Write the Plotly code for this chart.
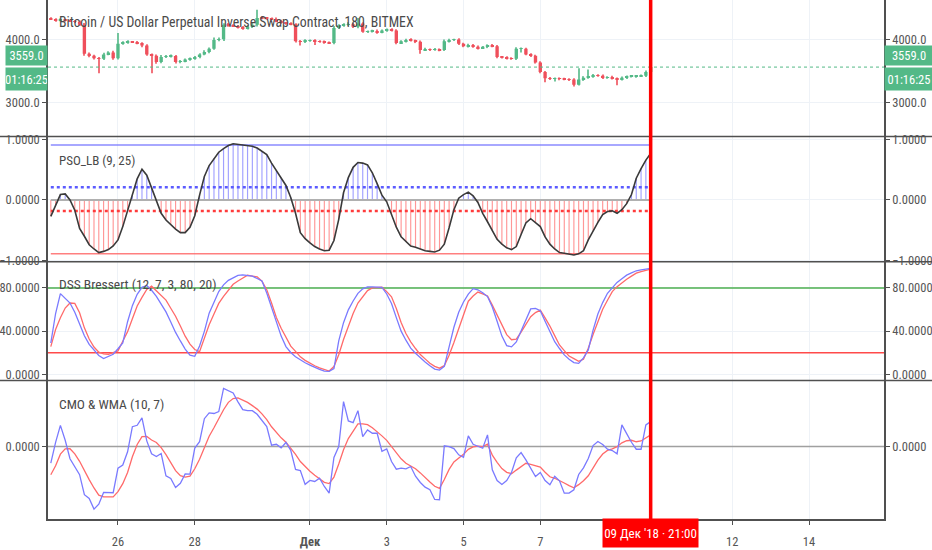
import pandas as pd
import plotly.graph_objects as go

# ---------------- data ----------------
start_time = "2018-11-24 06:00"
bar_count = 126
times = pd.date_range(start_time, periods=bar_count, freq="3h")

first_open = 4330
closes = [
    4320, 4300, 4310, 4300, 4290, 4280, 4230, 3770, 3740, 3700,
    3690, 3760, 3790, 3700, 3930, 3950, 3960, 3955, 3940, 3900,
    3760, 3740, 3640, 3720, 3730, 3735, 3640, 3650, 3680, 3690,
    3720, 3760, 3800, 3850, 3990, 4000, 4230, 4220, 4210, 4190,
    4170, 4200, 4230, 4340, 4335, 4330, 4320, 4290, 4260, 4250,
    4240, 3970, 3960, 3975, 3980, 3970, 3960, 3950, 3940, 4180,
    4220, 4230, 4240, 4200, 4250, 4120, 4125, 4130, 4110, 4140,
    4150, 4140, 3940, 3970, 3990, 3980, 3960, 3830, 3840, 3835,
    3840, 3830, 3970, 3990, 3995, 3930, 3890, 3910, 3880, 3860,
    3880, 3900, 3890, 3720, 3710, 3700, 3690, 3850, 3850, 3760,
    3740, 3630, 3480, 3380, 3370, 3380, 3370, 3365, 3360, 3280,
    3360, 3390, 3410, 3430, 3420, 3390, 3400, 3380, 3360, 3390,
    3410, 3410, 3415, 3420, 3480, 3559,
]
wick_up = [
    20, 15, 20, 15, 10, 15, 20, 30, 20, 15,
    20, 25, 20, 30, 170, 20, 25, 15, 20, 15,
    20, 15, 20, 30, 20, 25, 15, 20, 15, 20,
    15, 20, 25, 20, 40, 30, 25, 30, 20, 15,
    20, 25, 30, 130, 25, 20, 15, 25, 20, 15,
    20, 15, 20, 25, 15, 20, 15, 20, 15, 30,
    20, 25, 30, 20, 90, 20, 15, 20, 25, 15,
    20, 25, 20, 15, 20, 25, 15, 20, 25, 15,
    20, 15, 25, 20, 15, 20, 15, 20, 15, 20,
    15, 20, 25, 20, 15, 20, 15, 25, 20, 15,
    20, 15, 20, 15, 20, 15, 15, 20, 15, 20,
    180, 25, 110, 20, 15, 20, 15, 20, 15, 20,
    15, 20, 15, 20, 25, 15,
]
wick_dn = [
    15, 20, 15, 20, 15, 20, 15, 30, 25, 20,
    230, 20, 15, 25, 20, 15, 20, 15, 20, 25,
    20, 280, 30, 20, 15, 20, 25, 20, 15, 20,
    15, 20, 15, 20, 15, 20, 25, 20, 15, 20,
    20, 15, 20, 25, 15, 20, 15, 20, 15, 20,
    15, 20, 60, 20, 15, 60, 15, 20, 15, 20,
    15, 20, 15, 20, 25, 15, 20, 15, 20, 15,
    20, 15, 20, 15, 20, 15, 20, 60, 15, 20,
    15, 20, 15, 20, 15, 20, 15, 20, 15, 20,
    15, 20, 15, 20, 15, 20, 15, 20, 60, 15,
    20, 15, 20, 60, 15, 40, 20, 15, 20, 30,
    15, 20, 15, 20, 15, 20, 15, 20, 90, 15,
    20, 15, 20, 15, 20, 15,
]
opens = [first_open] + closes[:-1]
highs = [max(o, c) + w for o, c, w in zip(opens, closes, wick_up)]
lows = [min(o, c) - w for o, c, w in zip(opens, closes, wick_dn)]

pso = [
    -0.27, -0.08, 0.09, 0.10, 0.00, -0.17, -0.47, -0.60, -0.74, -0.81,
    -0.87, -0.85, -0.82, -0.76, -0.66, -0.44, -0.17, 0.09, 0.35, 0.51,
    0.41, 0.20, -0.02, -0.22, -0.33, -0.41, -0.48, -0.54, -0.54, -0.45,
    -0.26, 0.08, 0.39, 0.57, 0.69, 0.79, 0.85, 0.90, 0.93, 0.92,
    0.92, 0.91, 0.89, 0.86, 0.81, 0.75, 0.61, 0.48, 0.37, 0.24,
    0.04, -0.22, -0.54, -0.64, -0.71, -0.77, -0.81, -0.84, -0.83, -0.67,
    -0.32, 0.12, 0.37, 0.54, 0.62, 0.61, 0.58, 0.45, 0.27, 0.08,
    -0.03, -0.25, -0.45, -0.61, -0.69, -0.76, -0.78, -0.81, -0.84, -0.85,
    -0.86, -0.83, -0.73, -0.46, -0.16, 0.03, 0.09, 0.13, 0.07, -0.04,
    -0.22, -0.36, -0.51, -0.65, -0.73, -0.79, -0.82, -0.77, -0.57, -0.38,
    -0.31, -0.37, -0.44, -0.61, -0.73, -0.81, -0.87, -0.88, -0.89, -0.91,
    -0.89, -0.84, -0.66, -0.51, -0.37, -0.24, -0.19, -0.18, -0.22, -0.16,
    -0.06, 0.09, 0.36, 0.52, 0.66, 0.77,
]
pso_upper = 0.91
pso_upper_dot = 0.21
pso_mid = 0.0
pso_lower_dot = -0.18
pso_lower = -0.89

dss_k = [
    29, 56.3, 74.7, 70.4, 66, 57.5, 46.5, 35.7, 27.7, 22.6,
    17.4, 14.6, 16.4, 18.6, 23.7, 29.1, 48.7, 63.6, 74.1, 80.6,
    82.3, 77.8, 72.2, 65.3, 57.8, 48.5, 38.8, 30.9, 23.4, 17.8,
    16.7, 26.2, 39.8, 56.6, 67, 76.6, 82.8, 87, 89.3, 91.6,
    92, 91.5, 90.9, 88.7, 86.5, 75.3, 61.7, 46.8, 35.4, 25.7,
    20.2, 16.2, 13.2, 10.7, 8.6, 6.4, 4.6, 3, 2.7, 5.3,
    31, 47.8, 59.7, 67.9, 75, 79.2, 80.9, 80.9, 80.9, 80.6,
    74.4, 65.5, 52.5, 40, 31.6, 24.2, 19.5, 15.2, 11.5, 7.9,
    4.8, 3.9, 7.4, 25.4, 43.6, 57.4, 67, 74.3, 79.3, 78.3,
    75.6, 72, 62.3, 49.1, 35.4, 26.6, 25.4, 30, 40.5, 51.5,
    60.6, 61, 58.9, 49.2, 39.7, 30.2, 23.9, 18, 14, 10.9,
    10.2, 15.2, 22.6, 40.9, 55.9, 66.4, 75, 80.2, 85.1, 88.5,
    91.8, 93.9, 95.9, 96.8, 97.5, 98,
]
dss_d = [
    25.7, 41.5, 52.4, 61.4, 66, 65.7, 57, 43, 32.7, 25.3,
    20.5, 18.9, 18.4, 19.8, 21.7, 30.7, 39.5, 51.5, 63.3, 71.2,
    78.6, 81.6, 77.6, 73.6, 68.7, 61.2, 53.8, 44.8, 35.3, 28,
    23, 21, 33.8, 45.9, 55.8, 65.7, 72.2, 78, 83.4, 86.4,
    89.4, 91.7, 91, 90.3, 86.2, 78.4, 66, 52.7, 42.7, 34,
    26.1, 21.2, 16.2, 12.9, 10.2, 7.9, 6, 4.2, 3, 7.2,
    18.1, 32.2, 45.3, 56.4, 66, 71.8, 77.5, 80.1, 80.4, 80.6,
    76.6, 71.8, 61, 48, 37.8, 30.1, 23.9, 18.3, 14.3, 10.2,
    7.4, 5.7, 8, 17.7, 29.5, 42.8, 56.4, 67.7, 72.5, 76.2,
    74.4, 72.6, 64.1, 54.5, 45.6, 36.8, 32, 32.6, 39, 46,
    53.3, 57.2, 59.5, 52.2, 44.7, 35.8, 27.2, 22, 16.9, 14.5,
    12.1, 14, 24.2, 36.9, 48.4, 60.2, 68.6, 76.6, 81.2, 84.9,
    88, 90.9, 93.7, 95.2, 96.5, 97.4,
]
dss_overbought = 80
dss_oversold = 20

cmo = [
    -16.7, 4.2, 21.2, 6.3, -12.2, -20.2, -28.2, -48.3, -52, -62.7,
    -57.7, -46, -46, -46.3, -21.7, -18.5, -5.3, 19.9, 21.3, 28.7,
    5.7, -7.3, -10, -7, -29.3, -32, -41, -36.8, -27.5, -27.7,
    -1.5, 4.9, 27.9, 33.7, 33.1, 35, 58.3, 56.3, 53.7, 44.8,
    37, 36, 36, 32.3, 26.3, 20, 1.3, 2.3, -1.3, 4.1,
    -3.8, -23, -24, -37.9, -34, -35, -31.7, -40, -46.7, -11,
    0, 45, 25.7, 24, 36, 10, 16.7, 13.3, 13.3, -4.7,
    -2.3, -15, -22.7, -21.7, -22.3, -20, -29.7, -36, -40.7, -43.3,
    -53, -53.3, 0.7, 0, -2, -8.3, -10.7, 10.7, 2.3, 0,
    -1.7, 11.7, -23.3, -34, -38, -34, -26, -11.3, -6, -13.3,
    -22, -30, -26, -34, -38.3, -29.7, -34.3, -46.7, -46.7, -43.3,
    -28, -21.3, -12, 1, 5, 2, -2.7, -4, -7.3, 21.7,
    13, 4.3, -2.7, -2.7, 21.7, 25,
]
wma = [
    -28.3, -19.3, -7.6, -2.3, -2.2, -7.3, -14.8, -24.3, -33.1, -41.5,
    -48.7, -50.4, -50.7, -50.4, -45.2, -37.2, -26, -10.3, 2.1, 9.9,
    10.1, 6.6, 4.1, -1.1, -8.1, -15.7, -24.1, -29.2, -30.6, -29.6,
    -22.3, -12.7, -1.3, 10.4, 18.8, 28.2, 36.9, 44.3, 48.1, 48.7,
    46.7, 44.2, 41, 37.5, 32.7, 26.9, 19.8, 14, 8.7, 4.4,
    -1.2, -7.9, -15, -20.3, -24.7, -28.7, -32.6, -35.9, -37.1, -30.6,
    -17.5, -3.3, 8, 15.3, 22.7, 22.7, 21.9, 18.8, 15.1, 10.7,
    6.2, 0.1, -6, -12.3, -16.8, -19.2, -22.2, -26.4, -30.5, -35.5,
    -39.8, -41.9, -33, -22.9, -15.5, -12.1, -7.8, -2.8, -0.3, 0.5,
    0, 2.4, -8.6, -15.8, -22.1, -25.8, -27.2, -23.6, -19.9, -16.8,
    -17.8, -19, -20.6, -25.8, -30.3, -31.8, -33.8, -36.5, -39.2, -41.3,
    -38.2, -34.3, -29.3, -21.1, -13.7, -7.5, -3.9, -2.3, -0.1, 3.7,
    5.8, 6.3, 4.8, 5.6, 8.9, 11.7,
]
cmo_mid = 0.0

last_price = 3559.0
last_price_text = "3559.0"
countdown_text = "01:16:25"
cursor_time = "2018-12-09 21:00"
cursor_text = "09 Дек '18 · 21:00"
title_text = "Bitcoin / US Dollar Perpetual Inverse Swap Contract, 180, BITMEX"
pso_title = "PSO_LB (9, 25)"
dss_title = "DSS Bressert (12, 7, 3, 80, 20)"
cmo_title = "CMO & WMA (10, 7)"

tick_dates = ["2018-11-26", "2018-11-28", "2018-12-01", "2018-12-03",
              "2018-12-05", "2018-12-07", "2018-12-12", "2018-12-14"]
tick_text = ["26", "28", "<b>Дек</b>", "3", "5", "7", "12", "14"]
price_ticks = [3000, 4000]
pso_ticks = [-1, 0, 1]
dss_ticks = [0, 40, 80]
cmo_ticks = [0]

# ---------------- style / layout ----------------
x_range = ["2018-11-24 04:15", "2018-12-15 22:52"]
price_range = [2457, 4624]
pso_range = [-1.02, 1.05]
dss_range = [-5.7, 104.3]
cmo_range = [-72.6, 66.2]

FONT = "Liberation Sans Narrow, Roboto Condensed, Roboto, sans-serif"
TXT = "#555555"
GRID = "#eef2f7"
AXIS = "#505050"
GREEN = "#53b987"
RED = "#ef4f5b"
BLUE_L = "#7a7aff"
RED_L = "#ff6a6a"
BAR_MS = 3 * 3600 * 1000

d_price = [0.7370, 1.0]
d_pso = [0.4958, 0.7370]
d_dss = [0.2669, 0.4958]
d_cmo = [0.0, 0.2669]

fig = go.Figure()

# price panel
fig.add_trace(go.Scatter(x=x_range, y=[last_price, last_price], mode="lines",
                         line=dict(color=GREEN, width=1, dash="dot"),
                         xaxis="x", yaxis="y", hoverinfo="skip"))
candle_colors = [GREEN if c >= o else RED for o, c in zip(opens, closes)]
fig.add_trace(go.Bar(x=times, base=lows, y=[h - l for h, l in zip(highs, lows)],
                     width=0.22 * BAR_MS, marker=dict(color=candle_colors, line=dict(width=0)),
                     opacity=0.8, xaxis="x", yaxis="y", hoverinfo="skip"))
fig.add_trace(go.Bar(x=times, base=[min(o, c) for o, c in zip(opens, closes)],
                     y=[max(abs(c - o), 9) for o, c in zip(opens, closes)],
                     width=0.7 * BAR_MS, marker=dict(color=candle_colors, line=dict(width=0)),
                     xaxis="x", yaxis="y", hoverinfo="skip"))

# PSO panel
fig.add_trace(go.Scatter(x=[times[0], times[-1]], y=[pso_mid, pso_mid], mode="lines",
                         line=dict(color="#b0b0b0", width=2),
                         xaxis="x2", yaxis="y2", hoverinfo="skip"))
pso_colors = ["rgba(110,110,255,0.65)" if v >= 0 else "rgba(255,95,95,0.65)" for v in pso]
fig.add_trace(go.Bar(x=times, y=pso, marker=dict(color=pso_colors, line=dict(width=0)),
                     width=0.24 * BAR_MS, xaxis="x2", yaxis="y2", hoverinfo="skip"))
for lvl, col, w, dash in [(pso_upper, "rgba(110,110,255,0.8)", 1.5, "solid"),
                          (pso_lower, "rgba(255,95,95,0.8)", 1.5, "solid"),
                          (pso_upper_dot, "#5b5bff", 2.5, "dot"),
                          (pso_lower_dot, "#ff3b3b", 2.5, "dot")]:
    fig.add_trace(go.Scatter(x=[times[0], times[-1]], y=[lvl, lvl], mode="lines",
                             line=dict(color=col, width=w, dash=dash),
                             xaxis="x2", yaxis="y2", hoverinfo="skip"))
fig.add_trace(go.Scatter(x=times, y=pso, mode="lines", line=dict(color="#3a3a3a", width=1.6),
                         xaxis="x2", yaxis="y2", hoverinfo="skip"))

# DSS panel
fig.add_trace(go.Scatter(x=x_range, y=[dss_overbought] * 2, mode="lines",
                         line=dict(color="#4caf50", width=1.5), xaxis="x3", yaxis="y3", hoverinfo="skip"))
fig.add_trace(go.Scatter(x=x_range, y=[dss_oversold] * 2, mode="lines",
                         line=dict(color="#ff4a4a", width=1.5), xaxis="x3", yaxis="y3", hoverinfo="skip"))
fig.add_trace(go.Scatter(x=times, y=dss_d, mode="lines", line=dict(color=RED_L, width=1.3),
                         xaxis="x3", yaxis="y3", hoverinfo="skip"))
fig.add_trace(go.Scatter(x=times, y=dss_k, mode="lines", line=dict(color=BLUE_L, width=1.3),
                         xaxis="x3", yaxis="y3", hoverinfo="skip"))

# CMO panel
fig.add_trace(go.Scatter(x=x_range, y=[cmo_mid, cmo_mid], mode="lines",
                         line=dict(color="#a0a0a0", width=1.6), xaxis="x4", yaxis="y4", hoverinfo="skip"))
fig.add_trace(go.Scatter(x=times, y=wma, mode="lines", line=dict(color=RED_L, width=1.3),
                         xaxis="x4", yaxis="y4", hoverinfo="skip"))
fig.add_trace(go.Scatter(x=times, y=cmo, mode="lines", line=dict(color=BLUE_L, width=1.3),
                         xaxis="x4", yaxis="y4", hoverinfo="skip"))

# invisible carriers for the right-hand scales
for series, ax in [(closes, "y5"), (pso, "y6"), (dss_k, "y7"), (cmo, "y8")]:
    fig.add_trace(go.Scatter(x=times, y=series, mode="lines", opacity=0,
                             line=dict(width=1), xaxis="x", yaxis=ax, hoverinfo="skip"))

tickfont = dict(family=FONT, size=12.5, color=TXT)


def xax(anchor, show_labels):
    d = dict(domain=[0, 1], anchor=anchor, range=x_range, type="date", automargin=False,
             tickvals=tick_dates, ticktext=tick_text, showgrid=True, gridcolor=GRID,
             gridwidth=1, zeroline=False, showticklabels=show_labels,
             tickfont=tickfont, fixedrange=True)
    if show_labels:
        d.update(showline=True, linecolor=AXIS, linewidth=1.5, ticks="outside",
                 ticklen=4, tickcolor=AXIS, ticklabelstandoff=6)
    else:
        d.update(ticks="")
    return d


def yax(domain, anchor, rng, ticks, fmt):
    return dict(domain=domain, anchor=anchor, range=rng, tickvals=ticks, tickformat=fmt,
                automargin=False, showgrid=True, gridcolor=GRID, zeroline=False,
                showline=True, linecolor=AXIS, linewidth=1.5,
                ticks="outside", ticklen=4, tickcolor=AXIS, tickfont=tickfont,
                side="left", fixedrange=True)


def yax_r(over, anchor, rng, ticks, fmt):
    return dict(overlaying=over, anchor=anchor, range=rng, tickvals=ticks, tickformat=fmt,
                automargin=False, showgrid=False, zeroline=False, showline=True,
                linecolor=AXIS, linewidth=1.5, ticks="outside", ticklen=4, tickcolor=AXIS,
                tickfont=tickfont, side="right", fixedrange=True)


sep_lines = []
for yb in [d_price[0], d_pso[0], d_dss[0]]:
    sep_lines.append(dict(type="line", xref="paper", yref="paper", x0=-0.06, x1=1.06,
                          y0=yb, y1=yb, line=dict(color=AXIS, width=1.6), layer="above"))
sep_lines.append(dict(type="line", xref="x4", yref="paper", x0=cursor_time, x1=cursor_time,
                      y0=0, y1=1, line=dict(color="#ff0000", width=3.5), layer="above"))

lab_font = dict(family=FONT, size=13.5, color="#4a4a4a")
annotations = [
    dict(text=title_text, xref="paper", yref="y domain", x=0.0108, y=0.839,
         xanchor="left", yanchor="middle", showarrow=False,
         font=dict(family=FONT, size=13.8, color="#4a4a4a")),
    dict(text=pso_title, xref="paper", yref="y2 domain", x=0.0108, y=0.812,
         xanchor="left", yanchor="middle", showarrow=False,
         font=dict(family=FONT, size=13, color="#4a4a4a")),
    dict(text=dss_title, xref="paper", yref="y3 domain", x=0.0108, y=0.808,
         xanchor="left", yanchor="middle", showarrow=False, font=lab_font),
    dict(text=cmo_title, xref="paper", yref="y4 domain", x=0.0108, y=0.827,
         xanchor="left", yanchor="middle", showarrow=False, font=lab_font),
    dict(text=cursor_text, xref="x4", yref="paper", x=cursor_time, y=0, yanchor="top",
         xanchor="center", showarrow=False, bgcolor="#ff0000", width=95, height=28,
         borderpad=0, yshift=1, font=dict(family=FONT, size=13, color="white")),
]
for side_x, anchor, w in [(0, "right", 41), (1, "left", 48)]:
    annotations.append(dict(text=last_price_text, xref="paper", yref="y", x=side_x, y=last_price,
                            xanchor=anchor, yanchor="bottom", showarrow=False, bgcolor=GREEN,
                            width=w, height=19, borderpad=0, yshift=1,
                            font=dict(family=FONT, size=12.5, color="white")))
    annotations.append(dict(text=countdown_text, xref="paper", yref="y", x=side_x, y=last_price,
                            xanchor=anchor, yanchor="top", showarrow=False, bgcolor=GREEN,
                            width=w, height=22, borderpad=0, yshift=0,
                            font=dict(family=FONT, size=12.5, color="white")))

fig.update_layout(
    width=932, height=550,
    margin=dict(l=48, r=48, t=0, b=31, autoexpand=False),
    paper_bgcolor="white", plot_bgcolor="white",
    showlegend=False, hovermode=False, barmode="overlay",
    font=dict(family=FONT, color=TXT),
    xaxis=xax("y", False),
    xaxis2=dict(xax("y2", False), matches="x"),
    xaxis3=dict(xax("y3", False), matches="x"),
    xaxis4=dict(xax("y4", True), matches="x"),
    yaxis=yax(d_price, "x", price_range, price_ticks, ".1f"),
    yaxis2=yax(d_pso, "x2", pso_range, pso_ticks, ".4f"),
    yaxis3=yax(d_dss, "x3", dss_range, dss_ticks, ".4f"),
    yaxis4=yax(d_cmo, "x4", cmo_range, cmo_ticks, ".4f"),
    yaxis5=yax_r("y", "x", price_range, price_ticks, ".1f"),
    yaxis6=yax_r("y2", "x2", pso_range, pso_ticks, ".4f"),
    yaxis7=yax_r("y3", "x3", dss_range, dss_ticks, ".4f"),
    yaxis8=yax_r("y4", "x4", cmo_range, cmo_ticks, ".4f"),
    shapes=sep_lines,
    annotations=annotations,
)

fig.write_html("out.html", config={"displayModeBar": False},
               post_script="document.body.style.margin='0px';")
